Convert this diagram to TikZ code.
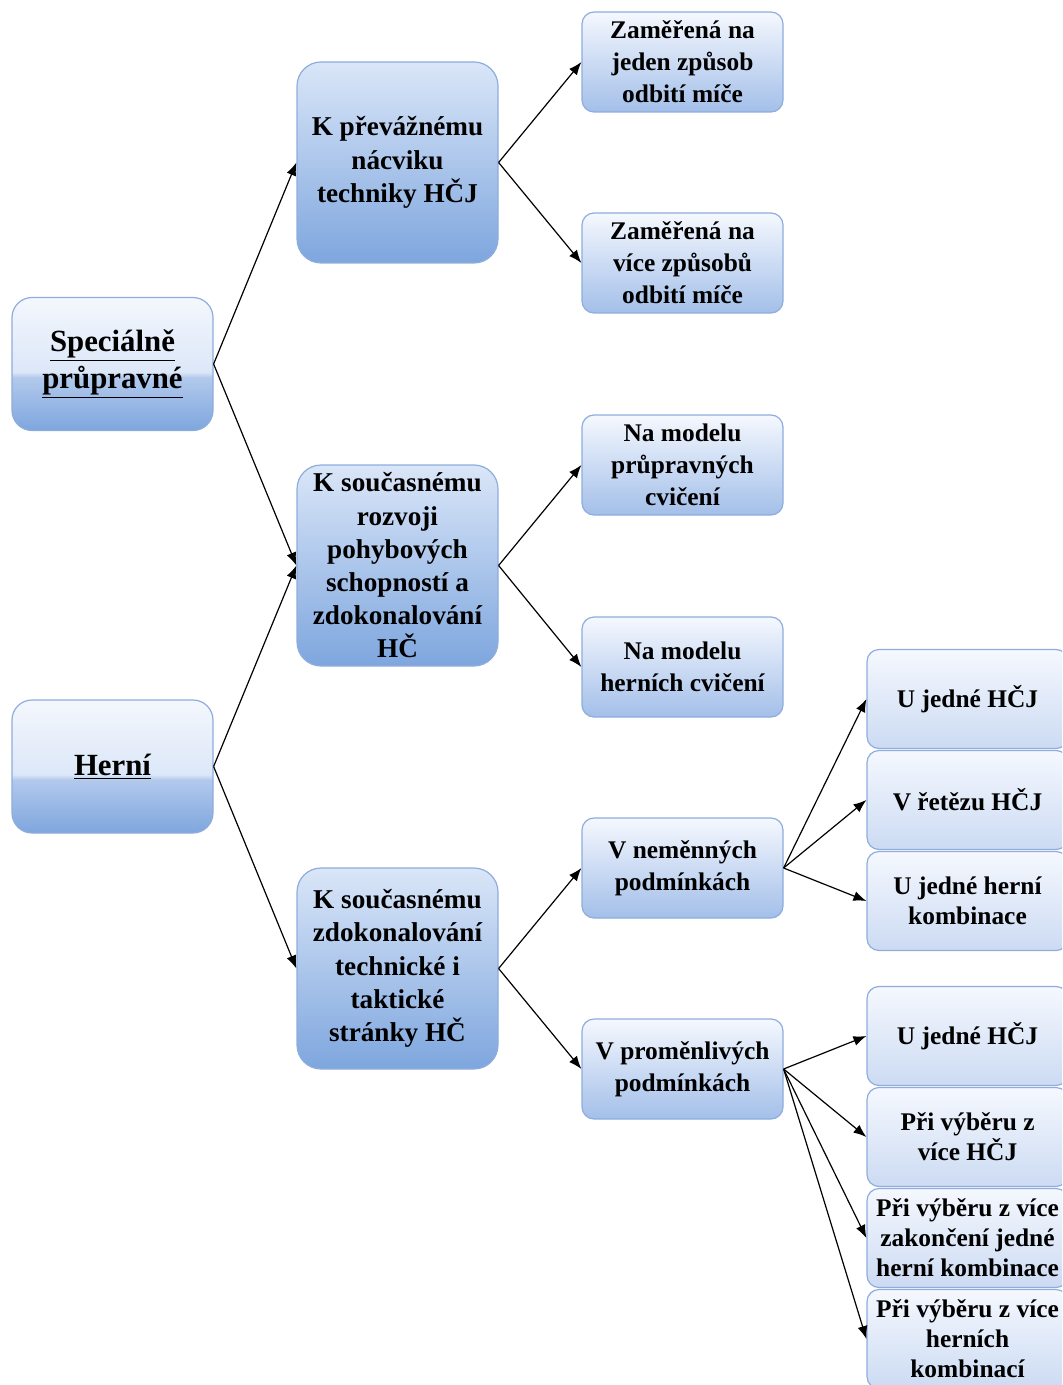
\documentclass[tikz,border=0pt]{standalone}
\usepackage{fontspec}
\setmainfont{Liberation Serif}[BoldFont={Liberation Serif Bold}]
\usetikzlibrary{arrows.meta}

\definecolor{glosstop}{HTML}{F4F7FD}
\definecolor{glossupper}{HTML}{DCE7F8}
\definecolor{glosslower}{HTML}{B2C9EC}
\definecolor{boxbottom}{HTML}{7EA6DE}
\definecolor{boxtop}{HTML}{DAE6F8}
\definecolor{lighttop}{HTML}{F5F8FE}
\definecolor{lightbottom}{HTML}{A3BFE9}
\definecolor{palebottom}{HTML}{CCDBF3}
\definecolor{boxline}{HTML}{8EADDD}

\pgfdeclareverticalshading{gloss}{100bp}{color(0bp)=(boxbottom); color(25bp)=(boxbottom);
  color(45bp)=(glosslower); color(47bp)=(glossupper); color(75bp)=(glosstop); color(100bp)=(glosstop)}

\tikzset{
  mainbox/.style={draw=boxline, line width=0.6pt, rounded corners=10pt, shading=gloss,
    minimum width=100.5pt, minimum height=66.5pt, align=center,
    font=\fontsize{15.4}{18.5}\selectfont\bfseries},
  midbox/.style={draw=boxline, line width=0.6pt, rounded corners=12pt, top color=boxtop,
    bottom color=boxbottom, minimum width=100.5pt, minimum height=100.5pt, align=center,
    inner sep=1pt, font=\fontsize{13.6}{16.6}\selectfont\bfseries},
  leafbox/.style={draw=boxline, line width=0.6pt, rounded corners=6pt, top color=lighttop,
    bottom color=lightbottom, minimum width=100.5pt, minimum height=50pt, align=center,
    inner sep=1pt, font=\fontsize{12.7}{16}\selectfont\bfseries},
  endbox/.style={draw=boxline, line width=0.6pt, rounded corners=6pt, top color=lighttop,
    bottom color=palebottom, minimum width=100.5pt, minimum height=49.5pt, align=center,
    inner sep=1pt, font=\fontsize{12.7}{15}\selectfont\bfseries},
  link/.style={line width=0.6pt, -{Latex[length=6.5pt,width=5pt]}}
}

\begin{document}
\begin{tikzpicture}[x=0.5pt, y=-0.5pt]
  \clip (0,0) rectangle (1062,1385);
  % First level
  \node[mainbox] (spec) at (112.5,364) {\underline{Speciálně}\\\underline{průpravné}};
  \node[mainbox] (herni) at (112.5,766.5) {\underline{Herní}};
  % Second level
  \node[midbox] (prevazne) at (397.5,162.5) {K převážnému\\nácviku\\techniky HČJ};
  \node[midbox] (rozvoj) at (397.5,565.5) {K současnému\\rozvoji\\pohybových\\schopností a\\zdokonalování\\HČ};
  \node[midbox] (zdokonal) at (397.5,968.5) {K současnému\\zdokonalování\\technické i\\taktické\\stránky HČ};
  % Third level
  \node[leafbox] (jeden) at (682.5,62) {Zaměřená na\\jeden způsob\\odbití míče};
  \node[leafbox] (vice) at (682.5,263) {Zaměřená na\\více způsobů\\odbití míče};
  \node[leafbox] (pruprav) at (682.5,465) {Na modelu\\průpravných\\cvičení};
  \node[leafbox] (hernicv) at (682.5,667) {Na modelu\\herních cvičení};
  \node[leafbox] (nemen) at (682.5,868) {V neměnných\\podmínkách};
  \node[leafbox] (promen) at (682.5,1069) {V proměnlivých\\podmínkách};
  % Fourth level
  \node[endbox] (ujedne) at (967.5,699) {U jedné HČJ};
  \node[endbox] (retez) at (967.5,800) {V řetězu HČJ};
  \node[endbox] (kombi) at (967.5,901) {U jedné herní\\kombinace};
  \node[endbox] (ujedneb) at (967.5,1036) {U jedné HČJ};
  \node[endbox] (vybhcj) at (967.5,1137) {Při výběru z\\více HČJ};
  \node[endbox] (vybzak) at (967.5,1238) {Při výběru z více\\zakončení jedné\\herní kombinace};
  \node[endbox] (vybkom) at (967.5,1339) {Při výběru z více\\herních\\kombinací};
  % Connectors
  \draw[link] (spec.east) -- (prevazne.west);
  \draw[link] (spec.east) -- (rozvoj.west);
  \draw[link] (herni.east) -- (rozvoj.west);
  \draw[link] (herni.east) -- (zdokonal.west);
  \draw[link] (prevazne.east) -- (jeden.west);
  \draw[link] (prevazne.east) -- (vice.west);
  \draw[link] (rozvoj.east) -- (pruprav.west);
  \draw[link] (rozvoj.east) -- (hernicv.west);
  \draw[link] (zdokonal.east) -- (nemen.west);
  \draw[link] (zdokonal.east) -- (promen.west);
  \draw[link] (nemen.east) -- (ujedne.west);
  \draw[link] (nemen.east) -- (retez.west);
  \draw[link] (nemen.east) -- (kombi.west);
  \draw[link] (promen.east) -- (ujedneb.west);
  \draw[link] (promen.east) -- (vybhcj.west);
  \draw[link] (promen.east) -- (vybzak.west);
  \draw[link] (promen.east) -- (vybkom.west);
\end{tikzpicture}
\end{document}
